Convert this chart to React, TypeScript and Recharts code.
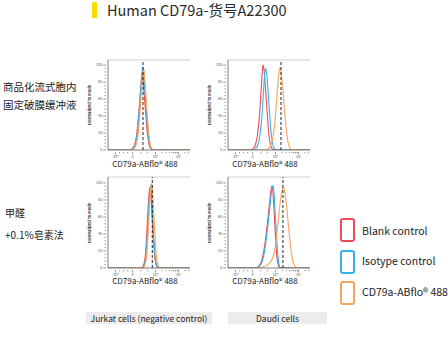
import React from "react"
import { LineChart, Line, XAxis, YAxis, ReferenceLine } from "recharts"

type Pt = { x: number; y: number }

const FONT = '"Noto Sans CJK SC", "Noto Sans", sans-serif'
const RED = "#ef4b55"
const BLUE = "#36b3e6"
const ORANGE = "#f7a55c"

const titleText = "Human CD79a-货号A22300"
const rowLabels = [
  ["商品化流式胞内", "固定破膜缓冲液"],
  ["甲醛", "+0.1%皂素法"],
]
const columnLabels = ["Jurkat cells (negative control)", "Daudi cells"]
const legendLabels = ["Blank control", "Isotype control", "CD79a-ABflo® 488"]
const xAxisTitle = "CD79a-ABflo® 488"
const yAxisTitle = "Normalized To Mode"

const yMajorTicks = [0, 20, 40, 60, 80, 100]
const yMinorTicks = [4, 8, 12, 16, 24, 28, 32, 36, 44, 48, 52, 56, 64, 68, 72, 76, 84, 88, 92, 96]
const xMajorTicks = [9, 30, 58, 86]
const xMajorLabels = ["-10⁴", "0", "10⁴", "10⁵"]
const xMinorTicks = [14, 19, 24, 40, 48, 66, 71, 75, 78, 80, 82, 83, 85, 94, 98]

// top-left: Jurkat, commercial buffer
const jurkatBufRed: Pt[] = [
  { x: 0, y: 0 }, { x: 26, y: 0 }, { x: 29, y: 1 }, { x: 32, y: 5 }, { x: 35, y: 18 }, { x: 37, y: 38 },
  { x: 39, y: 62 }, { x: 40.5, y: 80 }, { x: 41.5, y: 90 }, { x: 42.5, y: 86 }, { x: 44, y: 68 },
  { x: 46, y: 42 }, { x: 48, y: 20 }, { x: 50, y: 7 }, { x: 52, y: 2 }, { x: 55, y: 0 }, { x: 100, y: 0 },
]
const jurkatBufBlue: Pt[] = [
  { x: 0, y: 0 }, { x: 27, y: 0 }, { x: 30, y: 1 }, { x: 33, y: 6 }, { x: 36, y: 22 }, { x: 38, y: 45 },
  { x: 40, y: 72 }, { x: 41.5, y: 92 }, { x: 42.3, y: 98 }, { x: 43.3, y: 92 }, { x: 45, y: 70 },
  { x: 47, y: 42 }, { x: 49, y: 18 }, { x: 51, y: 6 }, { x: 53, y: 1.5 }, { x: 56, y: 0 }, { x: 100, y: 0 },
]
const jurkatBufOrange: Pt[] = [
  { x: 0, y: 0 }, { x: 28, y: 0 }, { x: 31, y: 1 }, { x: 34, y: 5 }, { x: 37, y: 20 }, { x: 39, y: 44 },
  { x: 41, y: 72 }, { x: 42.5, y: 90 }, { x: 43.5, y: 95 }, { x: 44.5, y: 90 }, { x: 46, y: 68 },
  { x: 48, y: 40 }, { x: 50, y: 17 }, { x: 52, y: 5 }, { x: 54, y: 1 }, { x: 57, y: 0 }, { x: 100, y: 0 },
]

// top-right: Daudi, commercial buffer
const daudiBufRed: Pt[] = [
  { x: 0, y: 0 }, { x: 27, y: 0 }, { x: 30, y: 1 }, { x: 33, y: 5 }, { x: 36, y: 18 }, { x: 38.5, y: 42 },
  { x: 40.5, y: 72 }, { x: 42, y: 94 }, { x: 42.8, y: 100 }, { x: 44, y: 94 }, { x: 45.5, y: 76 },
  { x: 47.5, y: 48 }, { x: 49.5, y: 22 }, { x: 51.5, y: 7 }, { x: 53.5, y: 2 }, { x: 56, y: 0 }, { x: 100, y: 0 },
]
const daudiBufBlue: Pt[] = [
  { x: 0, y: 0 }, { x: 30, y: 0 }, { x: 33, y: 1 }, { x: 36, y: 5 }, { x: 39, y: 18 }, { x: 41.5, y: 42 },
  { x: 43.5, y: 72 }, { x: 45, y: 92 }, { x: 45.8, y: 96 }, { x: 47, y: 91 }, { x: 48.5, y: 74 },
  { x: 50.5, y: 46 }, { x: 52.5, y: 21 }, { x: 54.5, y: 7 }, { x: 56.5, y: 2 }, { x: 59, y: 0 }, { x: 100, y: 0 },
]
const daudiBufOrange: Pt[] = [
  { x: 0, y: 0 }, { x: 46, y: 0 }, { x: 49, y: 1 }, { x: 52, y: 5 }, { x: 55, y: 16 }, { x: 57.5, y: 36 },
  { x: 59.5, y: 62 }, { x: 61.5, y: 85 }, { x: 63.2, y: 97 }, { x: 65, y: 90 }, { x: 67, y: 70 },
  { x: 69, y: 46 }, { x: 71, y: 25 }, { x: 73, y: 10 }, { x: 75, y: 3 }, { x: 77.5, y: 0.5 }, { x: 80, y: 0 },
  { x: 100, y: 0 },
]

// bottom-left: Jurkat, formaldehyde + saponin
const jurkatFaRed: Pt[] = [
  { x: 0, y: 0 }, { x: 40, y: 0 }, { x: 42, y: 1 }, { x: 44, y: 5 }, { x: 46, y: 20 }, { x: 47.5, y: 45 },
  { x: 49, y: 72 }, { x: 50.3, y: 90 }, { x: 51, y: 94 }, { x: 52, y: 88 }, { x: 53.5, y: 66 },
  { x: 55, y: 40 }, { x: 56.5, y: 18 }, { x: 58, y: 6 }, { x: 60, y: 1 }, { x: 62, y: 0 }, { x: 100, y: 0 },
]
const jurkatFaBlue: Pt[] = [
  { x: 0, y: 0 }, { x: 41, y: 0 }, { x: 43, y: 1 }, { x: 45, y: 6 }, { x: 47, y: 22 }, { x: 48.5, y: 48 },
  { x: 50, y: 76 }, { x: 51.2, y: 94 }, { x: 51.8, y: 97 }, { x: 52.6, y: 92 }, { x: 54, y: 70 },
  { x: 55.5, y: 42 }, { x: 57, y: 19 }, { x: 58.5, y: 6 }, { x: 60.5, y: 1 }, { x: 62.5, y: 0 }, { x: 100, y: 0 },
]
const jurkatFaOrange: Pt[] = [
  { x: 0, y: 0 }, { x: 41, y: 0 }, { x: 43.5, y: 1 }, { x: 45.5, y: 5 }, { x: 47.5, y: 18 }, { x: 49, y: 42 },
  { x: 50.5, y: 70 }, { x: 52, y: 92 }, { x: 53, y: 99 }, { x: 54, y: 93 }, { x: 55.5, y: 70 },
  { x: 57, y: 44 }, { x: 58.5, y: 20 }, { x: 60, y: 7 }, { x: 62, y: 1.5 }, { x: 64, y: 0 }, { x: 100, y: 0 },
]

// bottom-right: Daudi, formaldehyde + saponin
const daudiFaRed: Pt[] = [
  { x: 0, y: 0 }, { x: 33, y: 0 }, { x: 36, y: 1 }, { x: 39, y: 4 }, { x: 42, y: 12 }, { x: 45, y: 28 },
  { x: 48, y: 52 }, { x: 50.5, y: 75 }, { x: 52.5, y: 92 }, { x: 53.5, y: 96 }, { x: 54.7, y: 90 },
  { x: 56, y: 70 }, { x: 57.5, y: 44 }, { x: 59, y: 20 }, { x: 60.5, y: 7 }, { x: 62.5, y: 1 }, { x: 65, y: 0 },
  { x: 100, y: 0 },
]
const daudiFaBlue: Pt[] = [
  { x: 0, y: 0 }, { x: 34, y: 0 }, { x: 37, y: 1 }, { x: 40, y: 4 }, { x: 43, y: 12 }, { x: 46, y: 29 },
  { x: 49, y: 53 }, { x: 51.5, y: 76 }, { x: 53.5, y: 93 }, { x: 54.8, y: 97 }, { x: 56, y: 90 },
  { x: 57.3, y: 70 }, { x: 58.8, y: 44 }, { x: 60.3, y: 20 }, { x: 61.8, y: 7 }, { x: 63.5, y: 1 }, { x: 66, y: 0 },
  { x: 100, y: 0 },
]
const daudiFaOrange: Pt[] = [
  { x: 0, y: 0 }, { x: 38, y: 0 }, { x: 42, y: 1 }, { x: 46, y: 2.5 }, { x: 50, y: 5 }, { x: 53, y: 9 },
  { x: 55.5, y: 15 }, { x: 57.5, y: 24 }, { x: 59.5, y: 40 }, { x: 61.5, y: 58 }, { x: 63.5, y: 76 },
  { x: 65.5, y: 89 }, { x: 67.5, y: 95 }, { x: 69.5, y: 88 }, { x: 71.5, y: 72 }, { x: 73.5, y: 52 },
  { x: 75.5, y: 32 }, { x: 77.5, y: 17 }, { x: 79.5, y: 7 }, { x: 82, y: 2 }, { x: 85, y: 0 }, { x: 100, y: 0 },
]

const gates = [42.7, 64.6, 54, 67]

const YTick = (props: any) => {
  const { x, y, payload } = props
  const major = yMajorTicks.includes(payload.value)
  return (
    <g>
      <line x1={x - (major ? 3 : 1.5)} x2={x} y1={y} y2={y} stroke="#555" strokeWidth={0.6} />
      {major && (
        <text x={x - 4} y={y} dy="0.35em" textAnchor="end" fontSize={3.6} fill="#555" fontFamily={FONT}>
          {payload.value}
        </text>
      )}
    </g>
  )
}

const XTick = (props: any) => {
  const { x, y, payload } = props
  const idx = xMajorTicks.indexOf(payload.value)
  const major = idx >= 0
  return (
    <g>
      <line x1={x} x2={x} y1={y} y2={y + (major ? 2.5 : 1.3)} stroke="#555" strokeWidth={0.6} />
      {major && (
        <text x={x} y={y + 5.5} textAnchor="middle" fontSize={3.6} fill="#555" fontFamily={FONT}>
          {xMajorLabels[idx]}
        </text>
      )}
    </g>
  )
}

function Histo({
  left,
  top,
  height,
  yMax,
  red,
  blue,
  orange,
  gate,
}: {
  left: number
  top: number
  height: number
  yMax: number
  red: Pt[]
  blue: Pt[]
  orange: Pt[]
  gate: number
}) {
  const series = [
    { d: red, c: RED },
    { d: blue, c: BLUE },
    { d: orange, c: ORANGE },
  ]
  return (
    <div style={{ position: "absolute", left, top }}>
      <LineChart width={104} height={height} margin={{ top: 4, right: 2, bottom: 0, left: 0 }}>
        <XAxis
          type="number"
          dataKey="x"
          domain={[0, 100]}
          ticks={[...xMajorTicks, ...xMinorTicks]}
          interval={0}
          tick={<XTick />}
          tickLine={false}
          tickSize={0}
          height={10}
          axisLine={{ stroke: "#444", strokeWidth: 0.7 }}
          allowDataOverflow
        />
        <YAxis
          type="number"
          domain={[0, yMax]}
          ticks={[...yMajorTicks, ...yMinorTicks]}
          interval={0}
          tick={<YTick />}
          tickLine={false}
          tickSize={0}
          width={20}
          axisLine={{ stroke: "#444", strokeWidth: 0.7 }}
          allowDataOverflow
        />
        <ReferenceLine y={yMax} stroke="#c4c4c4" strokeWidth={0.8} />
        {series.map((s, i) => (
          <Line
            key={i}
            data={s.d}
            dataKey="y"
            type="monotone"
            stroke={s.c}
            strokeWidth={1.1}
            dot={false}
            isAnimationActive={false}
          />
        ))}
        <ReferenceLine x={gate} stroke="#222" strokeDasharray="3 2" strokeWidth={1} />
      </LineChart>
    </div>
  )
}

const abs = (s: React.CSSProperties): React.CSSProperties => ({ position: "absolute", ...s })

export default function App() {
  const legendColors = [RED, BLUE, ORANGE]
  return (
    <div style={abs({ left: 0, top: 0, width: 448, height: 338, background: "#fff", fontFamily: FONT, color: "#222" })}>
      <div style={abs({ left: 92, top: 2, width: 5, height: 16, background: "#f7dd00" })} />
      <div style={abs({ left: 107, top: 0, fontSize: 14.5, lineHeight: "20px", whiteSpace: "nowrap", color: "#2a2a2a" })}>
        {titleText}
      </div>

      {rowLabels.map((lines, r) =>
        lines.map((t, j) => (
          <div
            key={`${r}-${j}`}
            style={abs({
              left: r === 0 ? 3 : 5,
              top: (r === 0 ? 80 : 206) + j * (r === 0 ? 18 : 22),
              fontSize: r === 0 ? 10.5 : 10,
              lineHeight: "14px",
              whiteSpace: "nowrap",
            })}
          >
            {t}
          </div>
        ))
      )}

      <Histo left={88} top={56} height={104} yMax={106} red={jurkatBufRed} blue={jurkatBufBlue} orange={jurkatBufOrange} gate={gates[0]} />
      <Histo left={208} top={56} height={104} yMax={106} red={daudiBufRed} blue={daudiBufBlue} orange={daudiBufOrange} gate={gates[1]} />
      <Histo left={88} top={173} height={105} yMax={107} red={jurkatFaRed} blue={jurkatFaBlue} orange={jurkatFaOrange} gate={gates[2]} />
      <Histo left={208} top={173} height={105} yMax={107} red={daudiFaRed} blue={daudiFaBlue} orange={daudiFaOrange} gate={gates[3]} />

      {[105, 223].map((cy, r) =>
        [89, 209].map((cx, c) => (
          <div
            key={`yl-${r}-${c}`}
            style={abs({
              left: cx - 30,
              top: cy - 3,
              width: 60,
              height: 6,
              lineHeight: "6px",
              fontSize: 4,
              fontWeight: 700,
              color: "#333",
              textAlign: "center",
              transform: "rotate(-90deg)",
              whiteSpace: "nowrap",
            })}
          >
            {yAxisTitle}
          </div>
        ))
      )}

      {[164, 281].map((cy, r) =>
        [145, 265].map((cx, c) => (
          <div
            key={`xl-${r}-${c}`}
            style={abs({ left: cx - 50, top: cy - 5, width: 100, textAlign: "center", fontSize: 8, lineHeight: "10px", whiteSpace: "nowrap" })}
          >
            {xAxisTitle}
          </div>
        ))
      )}

      {legendLabels.map((t, i) => (
        <React.Fragment key={t}>
          <div
            style={abs({
              left: 340,
              top: [218, 250, 281][i],
              width: 11,
              height: 20,
              border: `2px solid ${legendColors[i]}`,
              borderRadius: 3,
            })}
          />
          <div style={abs({ left: 362, top: [224, 254, 285][i], fontSize: 10.5, lineHeight: "14px", whiteSpace: "nowrap" })}>{t}</div>
        </React.Fragment>
      ))}

      <div style={abs({ left: 86, top: 312, width: 126, height: 12, background: "#ececec", fontSize: 8.5, lineHeight: "12px", textAlign: "center", whiteSpace: "nowrap" })}>
        {columnLabels[0]}
      </div>
      <div style={abs({ left: 228, top: 312, width: 99, height: 12, background: "#ececec", fontSize: 8.5, lineHeight: "12px", textAlign: "center", whiteSpace: "nowrap" })}>
        {columnLabels[1]}
      </div>
    </div>
  )
}
